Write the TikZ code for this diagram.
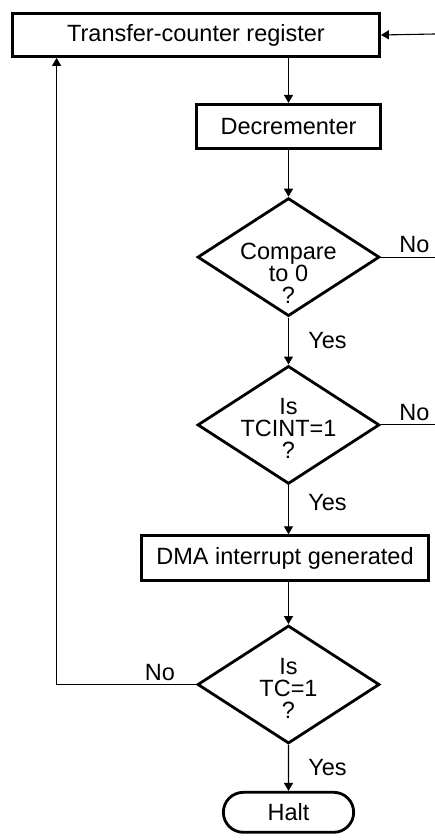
\documentclass[tikz,border=0pt]{standalone}
\usepackage{fontspec}
\setmainfont{Liberation Sans}
\usetikzlibrary{shapes.geometric,shapes.misc,arrows.meta,positioning}

\begin{document}
\begin{tikzpicture}[x=1pt,y=1pt,node distance=46pt,font=\fontsize{23.5}{22}\selectfont]
  \tikzstyle{block}=[rectangle,draw,line width=2.8pt,minimum height=44pt,inner sep=0pt]
  \tikzstyle{decision}=[diamond,draw,line width=2.8pt,minimum width=182pt,minimum height=118pt,inner sep=0pt]
  \tikzstyle{qtext}=[align=center,inner sep=0pt]
  \tikzstyle{flow}=[line width=1.1pt,-{Triangle[length=8pt,width=9pt]}]
  \tikzstyle{line}=[line width=1.1pt]
  \useasboundingbox (0,0) rectangle (435,-840);
  \node[block,minimum width=367pt,minimum height=43pt] (reg) at (196,-35) {Transfer-counter register};
  \node[block,minimum width=184pt,below=45pt of reg,xshift=92.5pt] (dec) {Decrementer};
  \node[decision,below=47pt of dec,label={[qtext,yshift=-16pt]center:Compare\\to 0\\?}] (cmp) {};
  \node[decision,below=47pt of cmp,label={[qtext,yshift=-4pt]center:Is\\TCINT=1\\?}] (tcint) {};
  \node[block,minimum width=287pt,minimum height=45pt,below=49pt of tcint,xshift=-3.5pt] (dma) {DMA interrupt generated};
  \node[decision,below=42pt of dma,xshift=3.5pt,label={[qtext,yshift=-4pt]center:Is\\TC=1\\?}] (tc) {};
  \node[rounded rectangle,draw,line width=2.8pt,minimum width=137pt,minimum height=40pt,below=46pt of tc] (halt) {Halt};
  \coordinate (feed) at (435,-34);
  \draw[flow] (feed) -- (reg.east);
  \draw[flow] (reg.south -| dec.north) -- (dec.north);
  \draw[flow] (dec) -- (cmp);
  \draw[line] (cmp.east) -- node[pos=0.62,above]{No} (cmp.east -| feed);
  \draw[flow] (cmp) -- node[right=16pt]{Yes} (tcint);
  \draw[line] (tcint.east) -- node[pos=0.62,above]{No} (tcint.east -| feed);
  \draw[flow] (tcint.south) -- node[right=16pt,pos=0.35]{Yes} (tcint.south |- dma.north);
  \draw[flow] (tcint.south |- dma.south) -- (tc);
  \draw[flow] (tc) -- node[right=16pt]{Yes} (halt);
  \draw[flow] (tc.west) -| node[pos=0.13,above]{No} ([xshift=45.5pt]reg.south west);
\end{tikzpicture}
\end{document}
